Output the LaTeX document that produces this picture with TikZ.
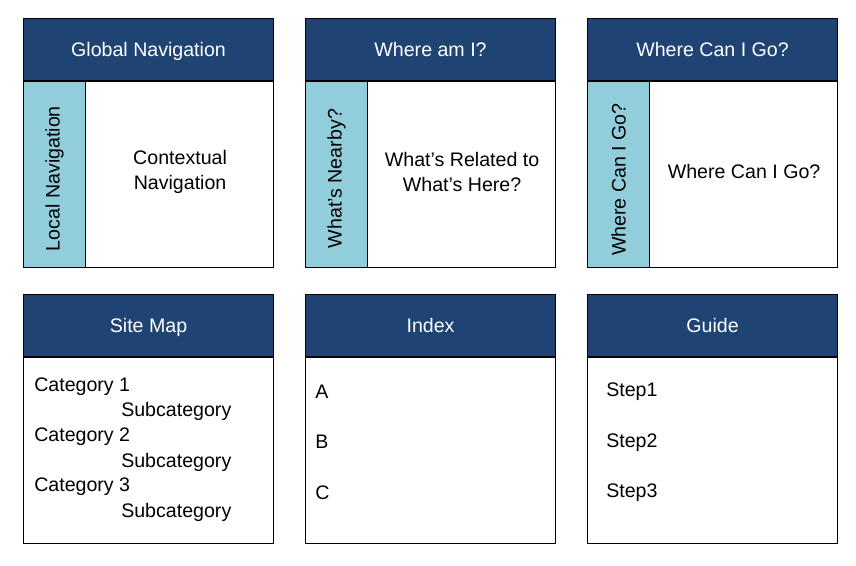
\documentclass[tikz,border=0pt]{standalone}
\usepackage{fontspec}
\setmainfont{Liberation Sans}
\usepackage{xcolor}
\usepackage{tikz}
\usetikzlibrary{positioning, calc}
\definecolor{navyblue}{HTML}{1F4373}
\definecolor{skyblue}{HTML}{92CDDC}

\begin{document}
\begin{tikzpicture}[
    x=0.75pt, y=-0.75pt,
    node distance=0pt,
    header/.style={rectangle, draw=black, fill=navyblue, text=white,
                   line width=0.8pt, minimum width=187.5pt, minimum height=46.5pt,
                   inner sep=0pt, text height=10.5pt, text depth=0pt,
                   font=\fontsize{14.7}{18.75}\selectfont},
    pane/.style={rectangle, draw=black, fill=white, line width=0.8pt,
                 minimum width=187.5pt, minimum height=139.5pt, inner sep=0pt},
    sidebar/.style={rectangle, draw=black, fill=skyblue, line width=0.8pt,
                    minimum width=46.5pt, minimum height=139.5pt, inner sep=0pt},
    paneltext/.style={align=center, inner sep=0pt,
                      font=\fontsize{14.7}{18.75}\selectfont},
    entry/.style={anchor=base west, inner sep=0pt,
                  font=\fontsize{14.7}{18.75}\selectfont},
  ]

  \useasboundingbox (0,0) rectangle (856,565);

  % top row
  \node[header, anchor=north west] (globalnav) at (23,18) {Global Navigation};
  \node[pane, below=of globalnav] (contextpane) {};
  \node[sidebar, anchor=north west] (localnav) at (contextpane.north west) {};
  \node[paneltext, rotate=90] (localtext) at ($(localnav.center)+(0,4)$) {Local Navigation};
  \node[paneltext] (contexttext) at ($($(localnav.east)!0.5!(contextpane.east)$)+(0,-3)$) {Contextual\\Navigation};

  \node[header, anchor=north west] (whereami) at (305,18) {Where am I?};
  \node[pane, below=of whereami] (relatedpane) {};
  \node[sidebar, anchor=north west] (nearby) at (relatedpane.north west) {};
  \node[paneltext, rotate=90] (nearbytext) at ($(nearby.center)+(0,4)$) {What’s Nearby?};
  \node[paneltext] (relatedtext) at ($($(nearby.east)!0.5!(relatedpane.east)$)+(0,-3)$) {What’s Related to\\What’s Here?};

  \node[header, anchor=north west] (wherego) at (587,18) {Where Can I Go?};
  \node[pane, below=of wherego] (gopane) {};
  \node[sidebar, anchor=north west] (goside) at (gopane.north west) {};
  \node[paneltext, rotate=90] (gosidetext) at ($(goside.center)+(0,5)$) {Where Can I Go?};
  \node[paneltext] (gotext) at ($($(goside.east)!0.5!(gopane.east)$)+(0,-3)$) {Where Can I Go?};

  % bottom row
  \node[header, anchor=north west] (sitemap) at (23,294) {Site Map};
  \node[pane, below=of sitemap] (sitepane) {};
  \node[entry] (cat1) at (34,391) {Category 1};
  \node[entry] (sub1) at (121,416.7) {Subcategory};
  \node[entry] (cat2) at (34,441.3) {Category 2};
  \node[entry] (sub2) at (121,467) {Subcategory};
  \node[entry] (cat3) at (34,491.6) {Category 3};
  \node[entry] (sub3) at (121,517.3) {Subcategory};

  \node[header, anchor=north west] (index) at (305,294) {Index};
  \node[pane, below=of index] (indexpane) {};
  \node[entry] (letterA) at (315,398.3) {A};
  \node[entry] (letterB) at (315,448.8) {B};
  \node[entry] (letterC) at (315,499.3) {C};

  \node[header, anchor=north west] (guide) at (587,294) {Guide};
  \node[pane, below=of guide] (guidepane) {};
  \node[entry] (step1) at (606,396.7) {Step1};
  \node[entry] (step2) at (606,447.2) {Step2};
  \node[entry] (step3) at (606,497.7) {Step3};
\end{tikzpicture}
\end{document}
